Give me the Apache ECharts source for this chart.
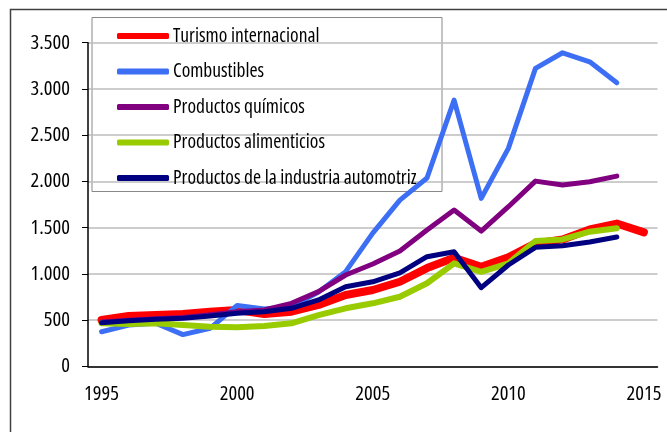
<!DOCTYPE html>
<html>
<head>
<meta charset="utf-8">
<script src="https://cdn.jsdelivr.net/npm/echarts@6/dist/echarts.min.js"></script>
<style>
  html, body { margin: 0; padding: 0; background: #fff; }
  #chart { width: 667px; height: 432px; }
</style>
</head>
<body>
<div id="chart"></div>
<script>
// años (eje de categorías)
var years = ["1995","1996","1997","1998","1999","2000","2001","2002","2003","2004",
  "2005","2006","2007","2008","2009","2010","2011","2012","2013","2014","2015"];

var turismo = [502, 546, 556, 567, 592, 611, 567, 592, 665, 773, 827, 916, 1064, 1176, 1079, 1180, 1331, 1374, 1482, 1545, 1450];
var combustibles = [376, 448, 467, 345, 413, 660, 621, 646, 805, 1025, 1442, 1799, 2037, 2880, 1817, 2358, 3222, 3391, 3294, 3067];
var quimicos = [480, 500, 515, 530, 560, 592, 611, 683, 809, 989, 1108, 1248, 1475, 1691, 1464, 1727, 2004, 1961, 1997, 2058];
var alimenticios = [467, 459, 467, 448, 430, 424, 438, 467, 556, 629, 683, 754, 900, 1115, 1024, 1115, 1356, 1374, 1457, 1495];
var automotriz = [473, 495, 510, 521, 546, 575, 592, 629, 719, 862, 916, 1013, 1187, 1241, 852, 1097, 1288, 1306, 1345, 1400];

// Open Sans es variable: "condensed" entra como font-stretch en el string del canvas
var FONT = "'Open Sans', sans-serif";
var STRETCH = "condensed";

function mkLine(name, data, color, width) {
  return {
    name: name,
    type: "line",
    data: data,
    symbol: "none",
    animation: false,
    lineStyle: { color: color, width: width, cap: "round", join: "round" },
    itemStyle: { color: color }
  };
}

var chart = echarts.init(document.getElementById("chart"));
chart.setOption({
  backgroundColor: "#fff",
  animation: false,
  grid: { left: 88, right: 9.5, top: 42.7, bottom: 65.5 },
  graphic: [
    // marco exterior
    {
      type: "rect", z: 0,
      shape: { x: 10.5, y: 9.5, width: 700, height: 500 },
      style: { fill: "none", stroke: "#404040", lineWidth: 1.5 }
    },
    // caja de la leyenda
    {
      type: "rect", z: 0,
      shape: { x: 92, y: 17.5, width: 350, height: 174 },
      style: { fill: "none", stroke: "#888", lineWidth: 1 }
    }
  ],
  legend: {
    orient: "vertical",
    left: 117,
    top: 26,
    padding: 0,
    itemWidth: 52,
    itemHeight: 6,
    itemGap: 15.5,
    icon: "roundRect",
    textStyle: { fontFamily: FONT, fontWeight: STRETCH, fontSize: 19.5, color: "#000", padding: [0, 0, 0, -1] },
    data: ["Turismo internacional", "Combustibles", "Productos químicos",
      "Productos alimenticios", "Productos de la industria automotriz"]
  },
  xAxis: {
    type: "category",
    data: years,
    boundaryGap: true,
    axisLine: { lineStyle: { color: "#000", width: 1.5 } },
    axisTick: { interval: 0, length: 6, lineStyle: { color: "#000" } },
    axisLabel: {
      interval: 4,
      color: "#000",
      fontFamily: FONT,
      fontWeight: STRETCH,
      fontSize: 20.5,
      margin: 17
    },
    splitLine: { show: false }
  },
  yAxis: {
    type: "value",
    min: 0,
    max: 3500,
    interval: 500,
    axisLine: { show: true, lineStyle: { color: "#000", width: 1.5 } },
    axisTick: { show: true, length: 6, lineStyle: { color: "#000" } },
    axisLabel: {
      color: "#000",
      fontFamily: FONT,
      fontWeight: STRETCH,
      fontSize: 20.5,
      margin: 18,
      formatter: function (v) {
        return String(v).replace(/\B(?=(\d{3})+(?!\d))/g, ".");
      }
    },
    splitLine: { lineStyle: { color: "#bdbdbd", width: 1.5 } }
  },
  series: [
    mkLine("Turismo internacional", turismo, "#ff0000", 8),
    mkLine("Combustibles", combustibles, "#3d6ff5", 5),
    mkLine("Productos químicos", quimicos, "#800080", 5),
    mkLine("Productos alimenticios", alimenticios, "#99cc00", 6),
    mkLine("Productos de la industria automotriz", automotriz, "#000080", 5)
  ]
});
</script>
</body>
</html>
